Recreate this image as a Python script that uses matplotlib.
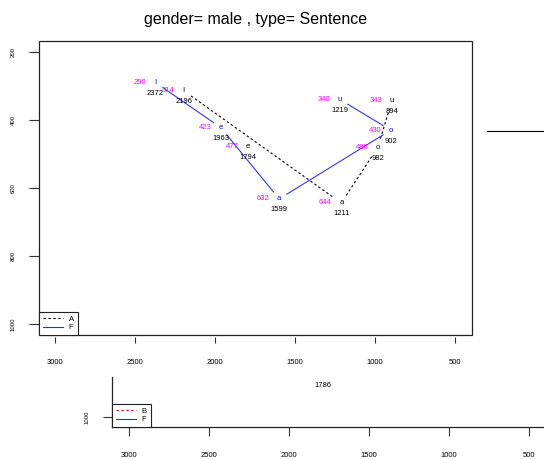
import numpy as np
import matplotlib
matplotlib.use("Agg")
import matplotlib.pyplot as plt
from matplotlib.lines import Line2D
from matplotlib.transforms import offset_copy

plt.rcParams['font.family'] = ['Liberation Sans', 'DejaVu Sans']

# vowel data (F1, F2 in Hz)
vowels = ["I", "e", "a", "o", "u"]
f1_F = [290, 423, 632, 430, 340]
f2_F = [2372, 1963, 1599, 902, 1219]
f1_A = [314, 477, 644, 480, 343]
f2_A = [2196, 1794, 1211, 982, 894]
path_F = [0, 1, 2, 3, 4]
path_A = [0, 2, 3, 4]

# second (clipped) panel
vowel_B = ["e"]
f1_B = [876]
f2_B = [1786]

xticks = [3000, 2500, 2000, 1500, 1000, 500]
yticks = [200, 400, 600, 800, 1000]

W, H = 544, 459
fig = plt.figure(figsize=(W / 100, H / 100), dpi=100)


def box(l, t, r, b):
    return [l / W, 1 - b / H, (r - l) / W, (b - t) / H]


def gapped(ax, xs, ys, gap=9, **kw):
    pts = ax.transData.transform(np.column_stack([xs, ys]))
    inv = ax.transData.inverted()
    for p, q in zip(pts[:-1], pts[1:]):
        d = q - p
        u = d / np.hypot(*d)
        seg = inv.transform([p + u * gap, q - u * gap])
        ax.plot(seg[:, 0], seg[:, 1], **kw)


def labels(ax, f1, f2, vw, vcol, clip=False):
    left = offset_copy(ax.transData, fig=fig, x=-16, y=0, units='dots')
    below = offset_copy(ax.transData, fig=fig, x=0, y=-11, units='dots')
    for a, b, v in zip(f1, f2, vw):
        ax.text(b, a, v, color=vcol, fontsize=5.5, ha='center', va='center', clip_on=clip)
        ax.text(b, a, str(a), color='#ff00ff', fontsize=5.5, ha='center', va='center',
                transform=left, clip_on=clip)
        ax.text(b, a, str(b), color='black', fontsize=5.5, ha='center', va='center',
                transform=below, clip_on=clip)


# main panel
ax = fig.add_axes(box(39, 41, 472, 335))
ax.set_xlim(3100, 394)
ax.set_ylim(1032, 168)
for s in ax.spines.values():
    s.set_visible(False)
ax.spines['bottom'].set_position(('outward', 1.5))
ax.add_patch(plt.Rectangle((0, 0), 1, 1, transform=ax.transAxes, fill=False,
                           edgecolor='#222222', lw=0.9, clip_on=False))
ax.set_xticks(xticks)
ax.set_yticks(yticks)
ax.tick_params(axis='x', length=4.3, width=0.8, pad=11.5, labelsize=5.5, color='#333333')
ax.tick_params(axis='y', length=7.2, width=0.8, pad=9.4, labelsize=4.3, color='#333333')
for t in ax.get_yticklabels():
    t.set_rotation(90)
    t.set_va('center')

gapped(ax, [f2_A[i] for i in path_A], [f1_A[i] for i in path_A],
       color='black', lw=0.8, dashes=(2.2, 2.2))
gapped(ax, [f2_F[i] for i in path_F], [f1_F[i] for i in path_F],
       color='#2a2aff', lw=0.75)
labels(ax, f1_A, f2_A, vowels, 'black')
labels(ax, f1_F, f2_F, vowels, 'blue')

h = [Line2D([], [], color='black', lw=0.8, dashes=(2.2, 2.2)),
     Line2D([], [], color='#2a2aff', lw=0.8)]
leg = ax.legend(h, ['A', 'F'], loc='lower left', borderaxespad=0, fancybox=False,
                edgecolor='#222222', framealpha=1, fontsize=5.5, handlelength=2.6,
                handletextpad=0.8, labelspacing=0.15, borderpad=0.5)
leg.get_frame().set_linewidth(0.8)

ax.set_title("gender= male , type= Sentence", fontsize=11.5, pad=12)

# second panel, mostly cut off
ax2 = fig.add_axes(box(112, 377, 544, 427))
ax2.set_xlim(3106, 406)
ax2.set_ylim(1029, 882)
ax2.spines['top'].set_visible(False)
ax2.spines['right'].set_visible(False)
for s in ax2.spines.values():
    s.set_linewidth(0.9)
    s.set_color('#222222')
ax2.set_xticks(xticks)
ax2.set_yticks([1000])
ax2.tick_params(axis='x', length=6.5, width=0.8, pad=11.5, labelsize=5.5, color='#333333')
ax2.tick_params(axis='y', length=6.5, width=0.8, pad=9.4, labelsize=4.3, color='#333333')
for t in ax2.get_yticklabels():
    t.set_rotation(90)
    t.set_va('center')
labels(ax2, f1_B, f2_B, vowel_B, 'blue', clip=True)
h2 = [Line2D([], [], color='red', lw=0.8, dashes=(2.2, 2.2)),
      Line2D([], [], color='#2a2aff', lw=0.8)]
leg2 = ax2.legend(h2, ['B', 'F'], loc='lower left', borderaxespad=0, fancybox=False,
                  edgecolor='#222222', framealpha=1, fontsize=5.5, handlelength=2.6,
                  handletextpad=0.8, labelspacing=0.15, borderpad=0.5)
leg2.get_frame().set_linewidth(0.8)

# stray line at the right edge
fig.add_artist(Line2D([487 / W, 543 / W], [1 - 131 / H] * 2, color='black', lw=0.8))

fig.savefig("out.png", dpi=100)
